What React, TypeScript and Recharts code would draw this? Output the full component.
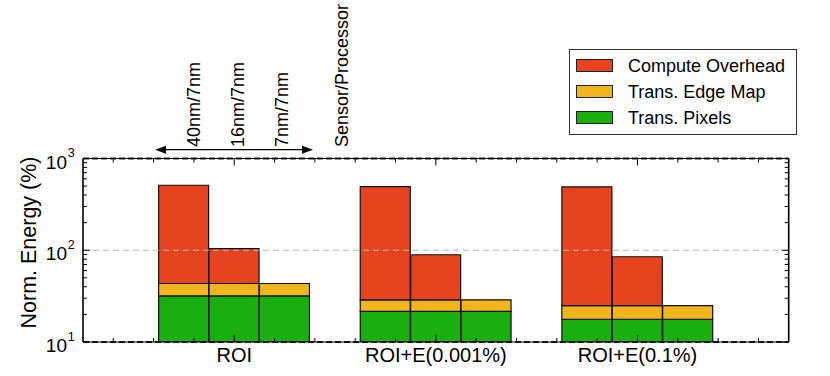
import React from 'react';
import { BarChart, Bar, XAxis, YAxis, ReferenceLine, Legend } from 'recharts';

const FONT = '"Liberation Sans", Arial, Helvetica, sans-serif';
const W = 830;
const H = 376;
const PLOT_LEFT = 83;
const PLOT_RIGHT = 788.7;
const PLOT_TOP = 158.5;
const PLOT_BOTTOM = 342;

const RED = '#e8431f';
const YELLOW = '#f0b51d';
const GREEN = '#19b00f';

// categories
const groups = ['ROI', 'ROI+E(0.001%)', 'ROI+E(0.1%)'];
const nodes = ['40nm/7nm', '16nm/7nm', '7nm/7nm'];
const boundaryLabel = 'Sensor/Processor';
const legendOrder = ['Compute Overhead', 'Trans. Edge Map', 'Trans. Pixels'];

// series values (Norm. Energy %), per group
const transPixels = [31.8, 21.6, 17.7];
const transEdgeMap = [11.6, 7.2, 7.2];
const computeOverheadROI = [467.6, 60.6, 0];
const computeOverheadE0001 = [465.2, 60.5, 0];
const computeOverheadE01 = [465.1, 60.0, 0];
const computeOverhead = [computeOverheadROI, computeOverheadE0001, computeOverheadE01];

// tick values
const yTicks = [10, 20, 30, 40, 50, 60, 70, 80, 90, 100, 200, 300, 400, 500, 600, 700, 800, 900, 1000];
const xTicks = [-0.6, -0.4, -0.2, 0, 0.2, 0.4, 0.6, 0.8, 1, 1.2, 1.4, 1.6, 1.8, 2, 2.2, 2.4, 2.6];

const data = groups.flatMap((g, gi) =>
  nodes.map((n, ni) => ({
    x: gi + (ni - 1) * 0.25,
    group: g,
    node: n,
    pixels: transPixels[gi],
    edge: transEdgeMap[gi],
    compute: computeOverhead[gi][ni],
  }))
);

const isMajorY = (v: number) => Math.abs(Math.log10(v) - Math.round(Math.log10(v))) < 1e-6;

const LeftTick = (p: any) => {
  const v = p.payload.value;
  const y = p.y;
  const major = isMajorY(v);
  const exp = Math.round(Math.log10(v));
  return (
    <g>
      <line x1={PLOT_LEFT} x2={PLOT_LEFT + (major ? 7 : 4)} y1={y} y2={y} stroke="#000" strokeWidth={1} />
      {major && (
        <text x={67} y={y + 10} textAnchor="end" fontSize={19} fill="#000" fontFamily={FONT}>10</text>
      )}
      {major && (
        <text x={67.8} y={y - 1.5} textAnchor="start" fontSize={12.5} fill="#000" fontFamily={FONT}>{exp}</text>
      )}
    </g>
  );
};

const RightTick = (p: any) => {
  const v = p.payload.value;
  const y = p.y;
  const major = isMajorY(v);
  return <line x1={PLOT_RIGHT} x2={PLOT_RIGHT - (major ? 7 : 4)} y1={y} y2={y} stroke="#000" strokeWidth={1} />;
};

const BottomTick = (p: any) => {
  const v = p.payload.value;
  const x = p.x;
  const major = Number.isInteger(v);
  return (
    <g>
      <line x1={x} x2={x} y1={PLOT_BOTTOM} y2={PLOT_BOTTOM - (major ? 7 : 4)} stroke="#000" strokeWidth={1} />
      {major && (
        <text x={x} y={362} textAnchor="middle" fontSize={20} fill="#000" fontFamily={FONT}>
          {groups[v]}
        </text>
      )}
    </g>
  );
};

const TopTick = (p: any) => {
  const v = p.payload.value;
  const x = p.x;
  const major = Number.isInteger(v);
  return <line x1={x} x2={x} y1={PLOT_TOP} y2={PLOT_TOP + (major ? 7 : 4)} stroke="#000" strokeWidth={1} />;
};

const LegendBox = (props: any) => {
  const payload = (props.payload || [])
    .slice()
    .sort((a: any, b: any) => legendOrder.indexOf(a.value) - legendOrder.indexOf(b.value));
  return (
    <div
      style={{
        width: 228,
        height: 86,
        boxSizing: 'border-box',
        border: '1px solid #333',
        background: '#fff',
        position: 'relative',
        fontFamily: FONT,
      }}
    >
      {payload.map((e: any, i: number) => (
        <div key={i} style={{ position: 'absolute', left: 0, top: 2.5 + i * 26.3, height: 26, width: 226 }}>
          <div
            style={{
              position: 'absolute',
              left: 6,
              top: 6,
              width: 37,
              height: 13,
              boxSizing: 'border-box',
              background: e.color,
              border: '1px solid #222',
            }}
          />
          <div
            style={{
              position: 'absolute',
              left: 58,
              top: 0,
              height: 26,
              lineHeight: '26px',
              fontSize: 18,
              color: '#000',
              whiteSpace: 'nowrap',
            }}
          >
            {e.value}
          </div>
        </div>
      ))}
    </div>
  );
};

const annotationX = [200, 244, 288];

export default function App() {
  return (
    <div style={{ position: 'absolute', left: 0, top: 0, width: W, height: H, background: '#fff', fontFamily: FONT }}>
      <BarChart
        width={W}
        height={H}
        data={data}
        margin={{ top: 0, right: 0, bottom: 0, left: 0 }}
        barGap={0}
        barCategoryGap={0}
      >
        <XAxis
          dataKey="x"
          type="number"
          domain={[-0.75, 2.75]}
          allowDataOverflow
          ticks={xTicks}
          interval={0}
          height={H - PLOT_BOTTOM}
          tickLine={false}
          tick={(p: any) => <BottomTick {...p} />}
          axisLine={{ stroke: '#000', strokeWidth: 1 }}
        />
        <XAxis
          xAxisId="top"
          orientation="top"
          dataKey="x"
          type="number"
          domain={[-0.75, 2.75]}
          allowDataOverflow
          ticks={xTicks}
          interval={0}
          height={PLOT_TOP}
          tickLine={false}
          tick={(p: any) => <TopTick {...p} />}
          axisLine={{ stroke: '#000', strokeWidth: 1 }}
        />
        <YAxis
          type="number"
          scale="log"
          domain={[10, 1000]}
          allowDataOverflow
          ticks={yTicks}
          interval={0}
          width={PLOT_LEFT}
          tickLine={false}
          tick={(p: any) => <LeftTick {...p} />}
          axisLine={{ stroke: '#000', strokeWidth: 1.6 }}
        />
        <YAxis
          yAxisId="right"
          orientation="right"
          type="number"
          scale="log"
          domain={[10, 1000]}
          allowDataOverflow
          ticks={yTicks}
          interval={0}
          width={W - PLOT_RIGHT}
          tickLine={false}
          tick={(p: any) => <RightTick {...p} />}
          axisLine={{ stroke: '#000', strokeWidth: 1.6 }}
        />
        <ReferenceLine y={100} stroke="#b8b8b8" strokeWidth={1.2} strokeDasharray="6 4" />
        <Bar dataKey="pixels" name="Trans. Pixels" stackId="s" fill={GREEN} stroke="#111" strokeWidth={1.2} barSize={50} isAnimationActive={false} />
        <Bar dataKey="edge" name="Trans. Edge Map" stackId="s" fill={YELLOW} stroke="#111" strokeWidth={1.2} barSize={50} isAnimationActive={false} />
        <Bar dataKey="compute" name="Compute Overhead" stackId="s" fill={RED} stroke="#111" strokeWidth={1.2} barSize={50} isAnimationActive={false} />
        <ReferenceLine y={10} stroke="#222" strokeWidth={2.2} strokeDasharray="6 3" />
        <ReferenceLine y={1000} stroke="#222" strokeWidth={2.2} strokeDasharray="6 3" />
        <Legend
          layout="vertical"
          align="center"
          verticalAlign="middle"
          wrapperStyle={{ position: 'absolute', left: 569, top: 49, width: 228, height: 86 }}
          content={(props: any) => <LegendBox {...props} />}
        />
      </BarChart>
      <svg
        width={W}
        height={H}
        style={{ position: 'absolute', left: 0, top: 0, pointerEvents: 'none' }}
        fontFamily={FONT}
      >
        <text transform="translate(36,242.5) rotate(-90)" textAnchor="middle" fontSize={21.5} fill="#000">
          Norm. Energy (%)
        </text>
        {nodes.map((n, i) => (
          <text key={n} transform={`translate(${annotationX[i]},147) rotate(-90)`} textAnchor="start" fontSize={18} fill="#000">
            {n}
          </text>
        ))}
        <text transform="translate(348,147) rotate(-90)" textAnchor="start" fontSize={18} fill="#000">
          {boundaryLabel}
        </text>
        <line x1={162} x2={306} y1={149.7} y2={149.7} stroke="#000" strokeWidth={1.3} />
        <polygon points="155,149.7 166,145.7 166,153.7" fill="#000" />
        <polygon points="313,149.7 302,145.7 302,153.7" fill="#000" />
      </svg>
    </div>
  );
}
